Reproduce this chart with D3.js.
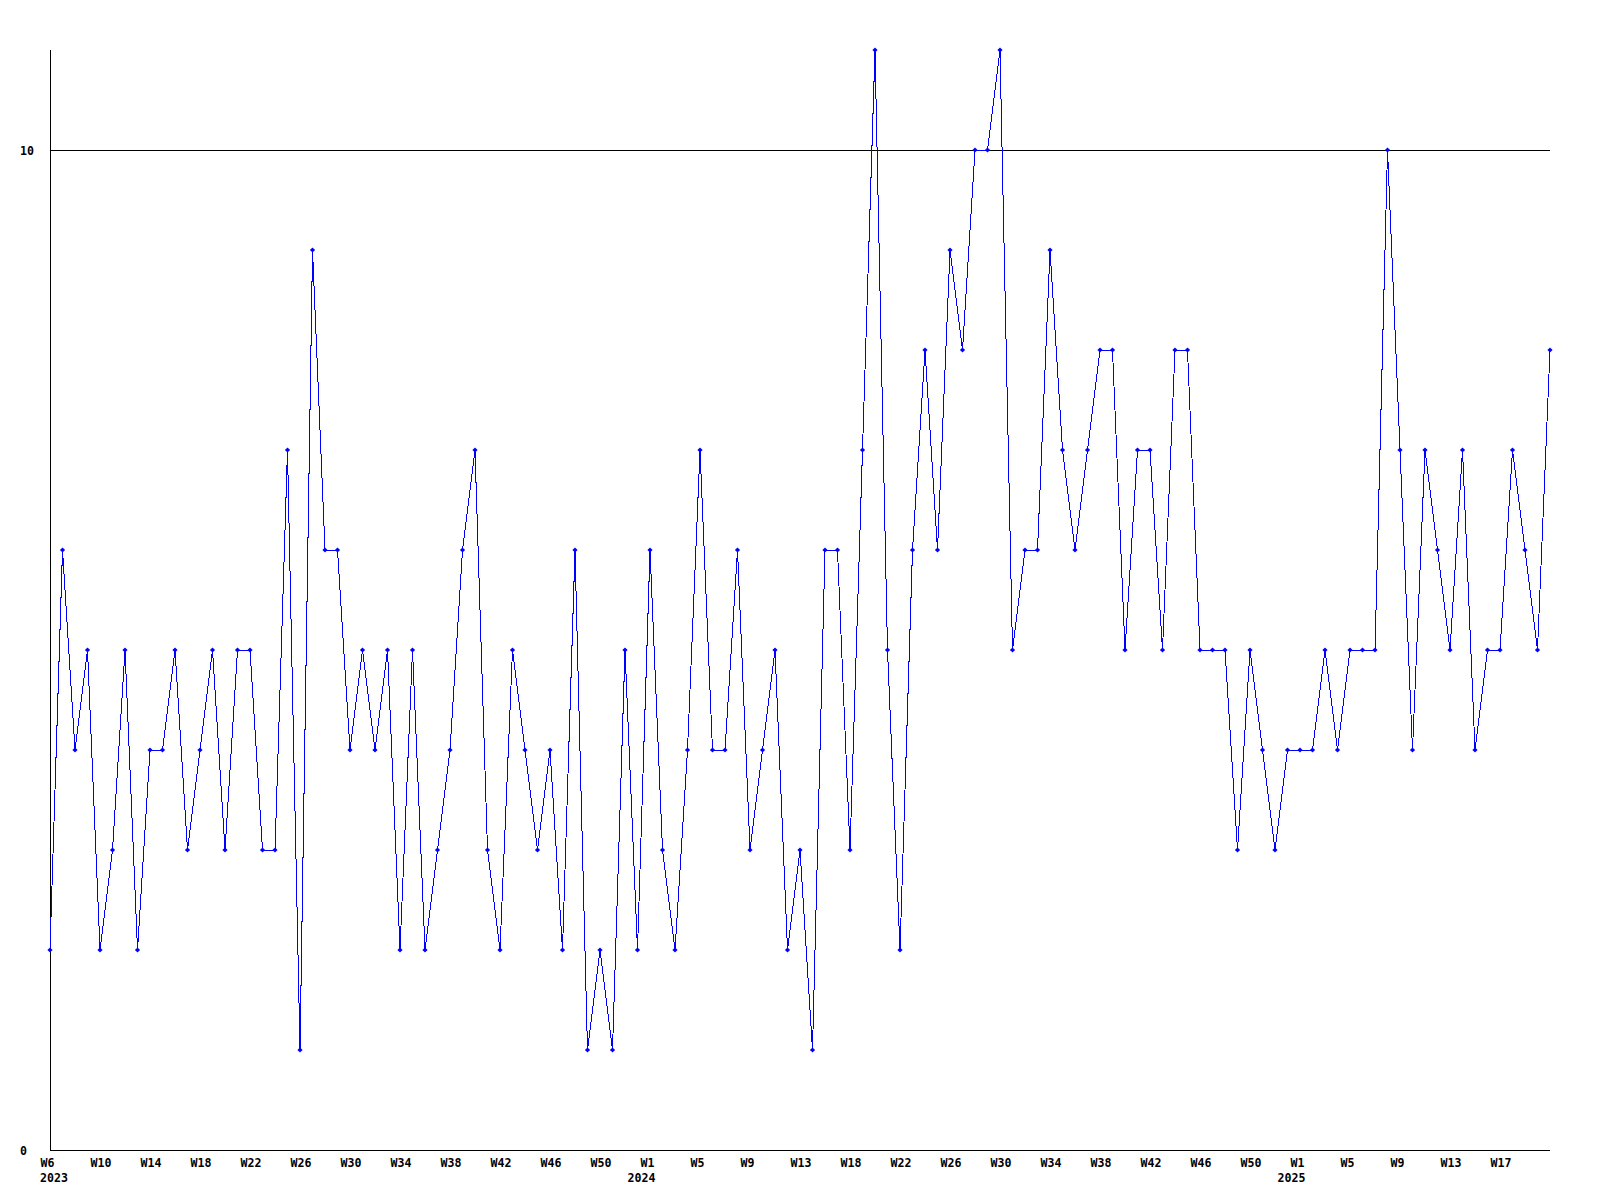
<!DOCTYPE html>
<html>
<head>
<meta charset="utf-8">
<script src="https://cdn.jsdelivr.net/npm/d3@7"></script>
<style>
  html, body { margin: 0; padding: 0; background: #ffffff; }
  svg { display: block; }
  text { font-family: "DejaVu Sans Mono", "Liberation Mono", monospace; font-weight: bold; font-size: 11.6px; fill: #000; }
</style>
</head>
<body>
<svg id="chart" width="1600" height="1200"></svg>
<script>
// ---- data ----
const weeks2023 = [6,7,8,9,10,11,12,13,14,15,16,17,18,19,20,21,22,23,24,25,26,27,28,29,30,31,32,33,34,35,36,37,38,39,40,41,42,43,44,45,46,47,48,49,50,51,52];
const weeks2024 = [0,1,2,3,4,5,6,7,8,9,10,11,12,13,14,16,17,18,19,20,21,22,23,24,25,26,27,28,29,30,31,32,33,34,35,36,37,38,39,40,41,42,43,44,45,46,47,48,49,50,51,52];
const weeks2025 = [0,1,2,3,4,5,6,7,8,9,10,11,12,13,14,15,16,17,18,19,20,21];

const values = [
  2,6,4,5,2,3,5,2,4,4,5,3,4,5,3,5,5,3,3,7,1,9,6,6,4,5,4,5,2,5,
  2,3,4,6,7,3,2,5,4,3,4,2,6,1,2,1,5,2,6,3,2,4,7,4,4,6,3,4,5,2,
  3,1,6,6,3,7,11,5,2,6,8,6,9,8,10,10,11,5,6,6,9,7,6,7,8,8,5,7,7,5,
  8,8,5,5,5,3,5,4,3,4,4,4,5,4,5,5,5,10,7,4,7,6,5,7,4,5,5,7,6,5,
  8
];

const yTickValues = [0, 10];
const xLabelEvery = 4;

(function () {
  // ---- build categories ----
  const categories = [];
  [[2023, weeks2023], [2024, weeks2024], [2025, weeks2025]].forEach(([yr, wks]) => {
    wks.forEach(w => categories.push({ key: yr + "-W" + w, year: yr, week: w }));
  });
  const data = categories.map((c, i) => ({ ...c, value: values[i], index: i }));

  // ---- layout ----
  const svg = d3.select("#chart");
  const mLeft = 50, mRight = 1550, mTop = 50, mBottom = 1150;

  const x = d3.scalePoint().domain(categories.map(c => c.key)).range([mLeft, mRight]);
  const y = d3.scaleLinear().domain([0, 11]).range([mBottom, mTop]);

  // gridline at 10
  svg.append("g").selectAll("line")
    .data(yTickValues.filter(v => v > 0))
    .join("line")
    .attr("x1", mLeft).attr("x2", mRight)
    .attr("y1", d => y(d) + 0.5).attr("y2", d => y(d) + 0.5)
    .attr("stroke", "#000").attr("stroke-width", 1)
    .attr("shape-rendering", "crispEdges");

  // axis lines
  svg.append("line")
    .attr("x1", mLeft + 0.5).attr("x2", mLeft + 0.5)
    .attr("y1", mTop).attr("y2", mBottom + 1)
    .attr("stroke", "#000").attr("shape-rendering", "crispEdges");
  svg.append("line")
    .attr("x1", mLeft).attr("x2", mRight)
    .attr("y1", mBottom + 0.5).attr("y2", mBottom + 0.5)
    .attr("stroke", "#000").attr("shape-rendering", "crispEdges");

  // y axis labels
  const yAxis = d3.axisLeft(y).tickValues(yTickValues).tickSize(0).tickFormat(d3.format("d"));
  const gy = svg.append("g").attr("transform", `translate(${mLeft},0)`).call(yAxis);
  gy.select(".domain").remove();
  gy.attr("font-family", null).attr("font-size", null);
  gy.selectAll("text")
    .attr("x", 20 - mLeft).attr("text-anchor", "start")
    .attr("dy", "0.35em");

  // x axis week labels
  const tickKeys = data.filter(d => d.index % xLabelEvery === 0 && d.index < data.length - 1).map(d => d.key);
  const weekByKey = new Map(data.map(d => [d.key, d.week]));
  const xAxis = d3.axisBottom(x).tickValues(tickKeys).tickSize(0).tickFormat(k => "W" + weekByKey.get(k));
  const gx = svg.append("g").attr("transform", `translate(0,${mBottom})`).call(xAxis);
  gx.select(".domain").remove();
  gx.attr("font-family", null).attr("font-size", null);
  gx.selectAll("text")
    .attr("text-anchor", "start")
    .attr("dx", -10)
    .attr("y", 0)
    .attr("dy", 16.5);

  // year labels at first point of each year
  const yearStarts = data.filter((d, i) => i === 0 || data[i - 1].year !== d.year);
  svg.append("g").selectAll("text")
    .data(yearStarts)
    .join("text")
    .attr("x", d => x(d.key) - 10)
    .attr("y", mBottom + 31.5)
    .text(d => d.year);

  // line
  const line = d3.line().x(d => x(d.key)).y(d => y(d.value));
  svg.append("path")
    .datum(data)
    .attr("d", line)
    .attr("fill", "none")
    .attr("stroke", "#0000ff")
    .attr("stroke-width", 1)
    .attr("shape-rendering", "crispEdges");

  // markers
  svg.append("g").selectAll("path")
    .data(data)
    .join("path")
    .attr("d", d => {
      const cx = x(d.key), cy = y(d.value);
      return `M${cx - 2.6},${cy}L${cx},${cy - 2.6}L${cx + 2.6},${cy}L${cx},${cy + 2.6}Z`;
    })
    .attr("fill", "#0000ff");
})();
</script>
</body>
</html>
